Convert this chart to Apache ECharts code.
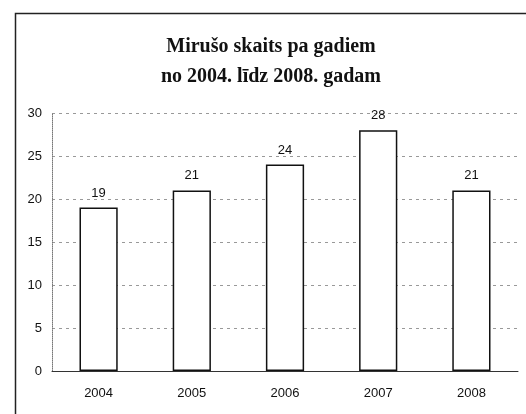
<!DOCTYPE html>
<html><head><meta charset="utf-8">
<script src="https://cdn.jsdelivr.net/npm/echarts@6/dist/echarts.min.js"></script>
<style>html,body{margin:0;padding:0;background:#fff}#c{width:526px;height:414px}</style>
</head><body><div id="c"></div>
<script>
const titleLines = ['Mirušo skaits pa gadiem', 'no 2004. līdz 2008. gadam'];
const years = ['2004', '2005', '2006', '2007', '2008'];
const deaths = [19, 21, 24, 28, 21];
const yTicks = [0, 5, 10, 15, 20, 25, 30];

const chart = echarts.init(document.getElementById('c'), null, {renderer: 'canvas'});
chart.setOption({
  animation: false,
  backgroundColor: '#fff',
  graphic: [{
    type: 'rect', left: 13, top: 11, shape: {width: 560, height: 460},
    style: {fill: 'none', stroke: '#222', lineWidth: 1.5}, silent: true
  }],
  title: {
    text: titleLines.join('\n'),
    left: 266, top: 27, textAlign: 'center',
    textStyle: {fontFamily: 'Liberation Serif', fontWeight: 'bold', fontSize: 20, color: '#111', lineHeight: 30}
  },
  grid: {left: 52, right: 8, top: 113, bottom: 43},
  xAxis: {
    type: 'category', data: years,
    axisLine: {lineStyle: {color: '#333', width: 1}},
    axisTick: {show: false},
    axisLabel: {fontFamily: 'Liberation Sans', fontSize: 13, color: '#111', margin: 16}
  },
  yAxis: {
    type: 'value', min: yTicks[0], max: yTicks[yTicks.length - 1], interval: 5,
    axisLine: {show: true, lineStyle: {color: '#777', type: 'dotted'}},
    axisTick: {show: false},
    axisLabel: {fontFamily: 'Liberation Sans', fontSize: 13, color: '#111', margin: 10},
    splitLine: {lineStyle: {color: '#999', type: [3, 4], width: 1}}
  },
  series: [{
    type: 'bar', data: deaths, barWidth: '41%',
    itemStyle: {color: '#fff', borderColor: '#111', borderWidth: 1.5},
    label: {show: true, position: 'top', distance: 8, fontFamily: 'Liberation Sans', fontSize: 13, color: '#111'}
  }]
});
</script></body></html>
